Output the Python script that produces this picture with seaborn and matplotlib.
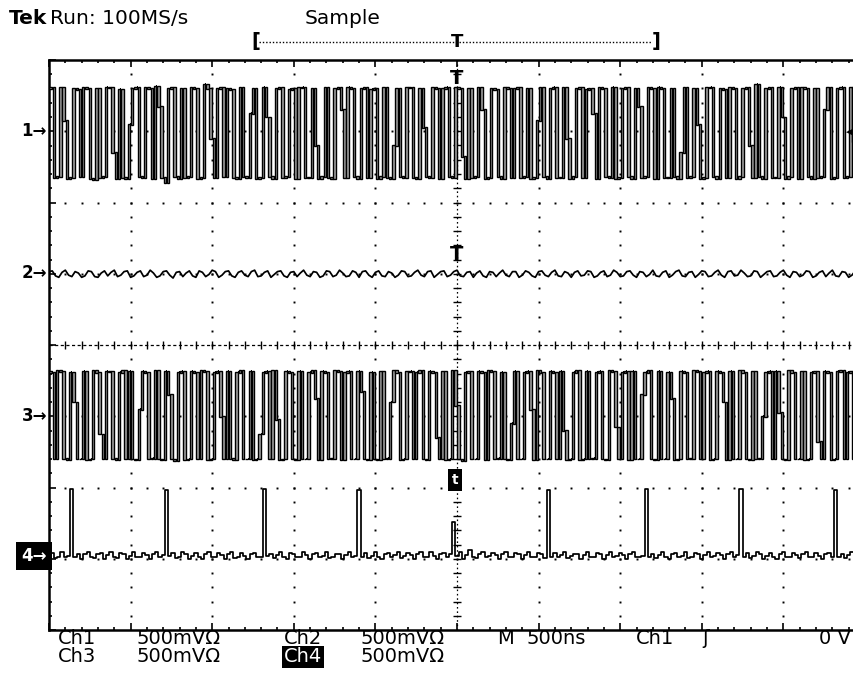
import numpy as np
import pandas as pd
import matplotlib
matplotlib.use("Agg")
import matplotlib.pyplot as plt
from matplotlib.lines import Line2D
from matplotlib.ticker import MultipleLocator
import seaborn as sns

# ---------------------------------------------------------------------------
# DATA  (one value per 20 ns display column, in screen divisions, 500 mV/div)
# ---------------------------------------------------------------------------
SAMPLE_NS = 20
TIME_PER_DIV_NS = 500

ch1_div = [
    0.60, 0.61, -0.65, -0.64, 0.62, 0.15, -0.66, -0.65, 0.60, 0.59, -0.64,
    0.61, 0.60, -0.66, -0.68, 0.60, -0.65, -0.64, 0.62, 0.61, -0.30, -0.66,
    0.59, -0.65, -0.66, 0.10, 0.60, 0.62, -0.64, -0.65, 0.61, 0.60, -0.66,
    0.63, 0.35, -0.65, -0.72, 0.60, 0.61, -0.64, -0.66, 0.60, -0.65, -0.64,
    0.61, 0.60, -0.66, -0.65, 0.66, 0.60, -0.10, -0.65, 0.60, 0.61, -0.64,
    0.60, 0.59, -0.65, -0.66, 0.61, -0.64, -0.65, 0.25, 0.60, -0.66, -0.65,
    0.62, 0.20, -0.64, -0.66, 0.60, 0.61, -0.65, -0.64, 0.59, 0.60, -0.66,
    0.61, 0.62, -0.65, -0.65, 0.60, -0.20, -0.66, -0.64, 0.61, -0.65, -0.66,
    0.60, 0.61, 0.30, -0.65, 0.62, 0.60, -0.64, -0.66, 0.60, 0.61, -0.65,
    0.59, 0.60, -0.66, -0.64, 0.61, -0.65, -0.66, -0.20, 0.60, -0.64, -0.65,
    0.62, 0.61, -0.65, -0.66, 0.60, 0.05, -0.64, -0.65, 0.61, 0.60, -0.66,
    0.60, 0.62, -0.64, -0.65, 0.61, 0.60, -0.35, -0.66, 0.60, -0.65, -0.64,
    0.61, 0.30, -0.66, -0.65, 0.60, 0.59, -0.64, -0.66, 0.62, 0.60, -0.65,
    0.60, 0.61, -0.65, -0.64, 0.60, -0.66, -0.65, 0.15, 0.61, -0.64, -0.66,
    0.60, 0.62, -0.65, -0.65, 0.61, -0.10, -0.66, -0.64, 0.60, 0.61, -0.65,
    0.59, 0.60, 0.25, -0.66, 0.61, 0.60, -0.64, -0.65, 0.62, -0.66, -0.65,
    0.60, 0.61, -0.64, -0.66, 0.60, 0.35, -0.65, -0.64, 0.61, 0.60, -0.66,
    0.62, 0.60, -0.65, -0.65, 0.60, -0.64, -0.66, -0.30, 0.61, -0.65, -0.64,
    0.60, 0.10, -0.66, -0.65, 0.61, 0.62, -0.64, -0.66, 0.60, 0.59, -0.65,
    0.61, 0.60, -0.66, -0.64, 0.60, 0.61, -0.20, -0.65, 0.66, -0.64, -0.66,
    0.60, 0.61, -0.65, -0.65, 0.62, 0.20, -0.66, -0.64, 0.60, 0.61, -0.66,
    0.61, 0.60, -0.64, -0.66, 0.60, -0.65, -0.64, 0.30, 0.61, -0.66, -0.65,
    0.60, 0.62, -0.65, -0.64, 0.61, -0.15, -0.66, -0.65, 0.60, 0.61, -0.64,
]

ch2_div = [
    0.03, 0.04, -0.03, -0.05, 0.02, 0.05, -0.02, -0.04, 0.03, 0.01, -0.05,
    -0.03, 0.04, 0.03, -0.04, -0.05, 0.01, 0.04, -0.03, 0.02, 0.05, -0.04,
    -0.02, 0.03, 0.04, -0.05, -0.03, 0.02, 0.04, -0.04, -0.02, 0.05, 0.01,
    -0.05, -0.03, 0.03, 0.04, -0.02, -0.06, 0.02, 0.03, -0.04, 0.01, 0.04,
    -0.03, -0.05, 0.04, 0.02, -0.04, -0.01, 0.05, 0.03, -0.05, -0.02, 0.03,
    0.04, -0.03, -0.05, 0.02, 0.04, -0.02, -0.04, 0.03, 0.05, -0.04, -0.03,
    0.02, 0.04, -0.05, -0.01, 0.03, 0.04, -0.03, -0.05, 0.02, 0.03, -0.04,
    0.01, 0.05, -0.02, -0.04, 0.03, 0.02, -0.05, -0.03, 0.04, 0.03, -0.04,
    -0.02, 0.05, 0.01, -0.04, -0.03, 0.04, 0.02, -0.05, 0.03, 0.04, -0.02,
    -0.05, 0.02, 0.04, -0.03, -0.04, 0.03, 0.01, -0.05, -0.02, 0.04, 0.03,
    -0.04, -0.03, 0.02, 0.05, -0.02, -0.04, 0.03, 0.04, -0.05, -0.01, 0.03,
    0.04, -0.04, -0.02, 0.03, 0.05, -0.03, -0.04, 0.02, 0.03, -0.05, 0.01,
    0.04, -0.03, -0.05, 0.03, 0.02, -0.04, 0.01, 0.05, -0.02, -0.04, 0.03,
    0.03, -0.05, -0.02, 0.04, 0.02, -0.03, -0.05, 0.03, 0.04, -0.02, -0.04,
    0.02, 0.05, -0.03, -0.04, 0.03, 0.01, -0.05, 0.02, 0.04, -0.03, -0.02,
    0.04, 0.03, -0.05, -0.03, 0.02, 0.04, -0.04, -0.02, 0.05, 0.02, -0.04,
    -0.03, 0.03, 0.04, -0.02, -0.05, 0.03, 0.02, -0.04, -0.01, 0.05, -0.03,
    -0.04, 0.02, 0.04, -0.05, -0.02, 0.03, 0.05, -0.03, -0.04, 0.02, 0.03,
    -0.05, -0.01, 0.04, 0.03, -0.04, -0.03, 0.02, 0.05, -0.02, -0.05, 0.03,
    0.04, -0.03, -0.02, 0.05, 0.01, -0.04, -0.03, 0.04, 0.03, -0.05, -0.01,
    0.03, 0.04, -0.04, -0.03, 0.02, 0.05, -0.02, -0.05, 0.03, 0.02, -0.04,
    -0.02, 0.04, 0.03, -0.05, -0.03, 0.02, 0.04, -0.04, 0.01, 0.05, -0.03,
    -0.04, 0.03, 0.02, -0.05, -0.02, 0.04, 0.03, -0.03, -0.05, 0.02, 0.04,
]

ch3_div = [
    0.63, 0.62, -0.60, 0.64, 0.63, -0.59, -0.61, 0.62, 0.20, -0.60, -0.60,
    0.63, -0.61, -0.60, 0.64, 0.62, -0.25, -0.60, 0.63, 0.63, -0.59, -0.61,
    0.62, 0.64, -0.60, 0.63, -0.60, -0.61, 0.10, 0.63, 0.62, -0.60, -0.59,
    0.64, -0.60, -0.61, 0.63, 0.30, -0.60, -0.62, 0.62, 0.63, -0.61, -0.60,
    0.63, 0.62, -0.60, 0.64, 0.63, -0.61, -0.60, 0.62, 0.63, 0.00, -0.60,
    0.63, -0.59, -0.61, 0.62, 0.64, -0.60, -0.60, 0.63, -0.61, -0.60, -0.25,
    0.62, 0.63, -0.60, 0.64, -0.05, -0.61, -0.60, 0.63, 0.62, -0.60, -0.61,
    0.63, -0.60, -0.60, 0.62, 0.64, 0.25, -0.61, 0.63, 0.62, -0.60, -0.59,
    0.64, 0.63, -0.61, 0.62, 0.63, -0.60, -0.60, 0.63, 0.35, -0.60, -0.61,
    0.62, -0.60, -0.61, 0.63, -0.60, -0.59, 0.20, 0.64, 0.62, -0.61, -0.60,
    0.63, 0.63, -0.60, 0.62, 0.64, -0.60, -0.61, 0.63, 0.62, -0.30, -0.60,
    0.63, -0.61, -0.60, 0.64, 0.15, -0.60, -0.62, 0.62, 0.63, -0.60, -0.60,
    0.63, 0.62, -0.61, 0.64, 0.63, -0.60, -0.59, 0.62, -0.60, -0.61, -0.10,
    0.63, -0.60, -0.60, 0.62, 0.63, 0.10, -0.61, 0.64, 0.62, -0.60, -0.60,
    0.63, 0.62, -0.60, 0.63, -0.20, -0.61, -0.60, 0.62, 0.64, -0.61, -0.60,
    0.63, -0.60, -0.59, 0.62, 0.63, -0.60, -0.61, 0.64, 0.63, -0.15, -0.60,
    0.62, 0.63, -0.61, 0.63, -0.60, -0.60, 0.30, 0.62, 0.64, -0.60, -0.61,
    0.63, -0.60, -0.60, 0.62, 0.25, -0.61, -0.60, 0.63, 0.62, -0.60, -0.59,
    0.64, 0.63, -0.60, 0.62, 0.63, -0.61, -0.60, 0.63, 0.62, 0.20, -0.61,
    0.63, -0.60, -0.60, 0.64, 0.62, -0.60, -0.61, 0.63, -0.59, -0.60, 0.00,
    0.62, 0.63, -0.60, 0.63, 0.05, -0.60, -0.61, 0.64, 0.62, -0.60, -0.60,
    0.63, -0.61, -0.60, 0.62, 0.63, -0.35, -0.60, 0.63, 0.62, -0.61, -0.60,
    0.63, 0.64, -0.60, 0.62, 0.63, -0.60, -0.61, 0.63, 0.20, -0.60, -0.60,
]

ch4_div = [
    0.05, 0.08, 0.01, 0.03, 0.09, 0.02, 0.04, 0.98, 0.03, 0.07, 0.00,
    0.06, 0.09, 0.02, 0.01, 0.07, 0.08, 0.00, 0.05, 0.09, 0.03, 0.01,
    0.08, 0.06, -0.01, 0.04, 0.09, 0.02, 0.03, 0.08, 0.05, -0.01, 0.06,
    0.09, 0.02, 0.05, 0.97, 0.04, 0.08, 0.01, 0.03, 0.09, 0.06, 0.00,
    0.04, 0.08, 0.03, -0.01, 0.07, 0.09, 0.02, 0.02, 0.08, 0.05, 0.00,
    0.06, 0.09, 0.01, 0.03, 0.08, 0.04, -0.01, 0.07, 0.08, 0.02, 0.03,
    0.98, 0.04, 0.07, 0.01, 0.05, 0.09, 0.03, 0.00, 0.08, 0.06, 0.02,
    0.03, 0.09, 0.05, -0.01, 0.06, 0.08, 0.02, 0.04, 0.09, 0.01, 0.03,
    0.07, 0.06, 0.00, 0.05, 0.09, 0.02, 0.04, 0.97, 0.03, 0.08, 0.01,
    0.04, 0.09, 0.03, 0.00, 0.07, 0.08, 0.02, 0.05, 0.09, 0.01, 0.04,
    0.08, 0.05, -0.01, 0.06, 0.09, 0.03, 0.02, 0.10, 0.04, 0.00, 0.07,
    0.08, 0.02, 0.06, 0.52, 0.04, 0.09, 0.00, 0.05, 0.12, 0.03, 0.01,
    0.07, 0.09, 0.02, 0.04, 0.08, 0.05, -0.01, 0.06, 0.09, 0.02, 0.03,
    0.08, 0.06, 0.00, 0.05, 0.09, 0.03, 0.02, 0.08, 0.06, 0.01, 0.97,
    0.03, 0.08, 0.02, 0.05, 0.09, 0.01, 0.04, 0.07, 0.06, -0.01, 0.05,
    0.09, 0.03, 0.02, 0.08, 0.06, 0.00, 0.05, 0.09, 0.02, 0.04, 0.08,
    0.05, -0.01, 0.06, 0.09, 0.02, 0.03, 0.04, 0.98, 0.02, 0.07, 0.01,
    0.05, 0.09, 0.03, 0.00, 0.07, 0.08, 0.02, 0.04, 0.09, 0.01, 0.03,
    0.08, 0.06, -0.01, 0.05, 0.09, 0.02, 0.04, 0.08, 0.05, 0.00, 0.06,
    0.09, 0.02, 0.05, 0.98, 0.03, 0.08, 0.01, 0.04, 0.09, 0.06, 0.00,
    0.04, 0.08, 0.03, -0.01, 0.07, 0.09, 0.02, 0.03, 0.08, 0.05, 0.01,
    0.06, 0.09, 0.02, 0.03, 0.08, 0.04, 0.00, 0.07, 0.08, 0.02, 0.97,
    0.03, 0.07, 0.01, 0.05, 0.09, 0.02, 0.04, 0.08, 0.06, 0.00, 0.05,
]

channel_labels = ["1", "2", "3", "4"]
header_texts = ["Tek", "Run: 100MS/s", "Sample"]
footer_row1 = ["Ch1", "500mV\u03a9", "Ch2", "500mV\u03a9", "M", "500ns", "Ch1", "\u0283", "0 V"]
footer_row2 = ["Ch3", "500mV\u03a9", "Ch4", "500mV\u03a9"]

# ---------------------------------------------------------------------------
sns.set_theme(style="white")
plt.rcParams["font.family"] = ["DejaVu Sans"]
plt.rcParams["text.color"] = "black"

W, H = 854, 676
fig = plt.figure(figsize=(W / 100, H / 100), dpi=100, facecolor="white")


def fx(px):
    return px / W


def fy(py):
    return 1 - py / H


# graticule area in pixels (right edge lies outside the picture)
GL, GR, GT, GB = 49, 865, 60, 630
ax = fig.add_axes([fx(GL), fy(GB), (GR - GL) / W, (GB - GT) / H])
ax.set_facecolor("white")

for s in ["left", "top", "bottom", "right"]:
    ax.spines[s].set_visible(True)
    ax.spines[s].set_color("black")
    ax.spines[s].set_linewidth(1.8)

# dotted graticule
gx = np.arange(1, 10)
gx = gx[gx != 5]
yd = np.arange(1, 40) * 0.2 - 4
X, Y = np.meshgrid(gx, yd)
ax.plot(X.ravel(), Y.ravel(), ls="none", marker="s", ms=1.4, mew=0, color="black", zorder=1)
gy = np.arange(-3, 4)
gy = gy[gy != 0]
xd = np.arange(1, 50) * 0.2
X2, Y2 = np.meshgrid(xd, gy)
ax.plot(X2.ravel(), Y2.ravel(), ls="none", marker="s", ms=1.4, mew=0, color="black", zorder=1)

# centre rulers
ax.axvline(5, color="black", lw=0.9, ls=(0, (1.3, 2.2)), zorder=1)
ax.axhline(0, color="black", lw=0.9, ls=(0, (2.5, 2.0)), zorder=1)
ax.plot(np.full(len(yd), 5.0), yd, ls="none", marker="_", ms=6, mew=1.0, color="black", zorder=1)
ax.plot(xd, np.zeros(len(xd)), ls="none", marker="|", ms=6, mew=1.0, color="black", zorder=1)

# traces
col_w = SAMPLE_NS / TIME_PER_DIV_NS
grounds = [3, 1, -1, -3]
pad = 0.006
bar_frac = 0.74


def draw_column_trace(values, ground):
    """Each display column is drawn as the vertical span between neighbouring samples."""
    v = np.asarray(values, dtype=float)
    t = np.arange(len(v)) * col_w
    lo = np.minimum(v[:-1], v[1:])
    hi = np.maximum(v[:-1], v[1:])
    centers = t[:-1] + col_w / 2
    bw = bar_frac * col_w
    ax.bar(centers, (hi - lo) + 2 * pad, bottom=ground + lo - pad, width=bw,
           color="#a3a3a3", edgecolor="black", linewidth=1.0, zorder=3)
    gap = (col_w - bw) / 2
    ax.hlines(ground + v[1:-1], t[1:-1] - gap, t[1:-1] + gap, color="black", lw=1.4, zorder=3)


def draw_line_trace(values, ground, style):
    v = np.asarray(values, dtype=float)
    df = pd.DataFrame({"t": np.arange(len(v)) * col_w, "v": ground + v})
    sns.lineplot(data=df, x="t", y="v", ax=ax, color="black", lw=1.25,
                 estimator=None, sort=False, legend=False, zorder=3, drawstyle=style)


draw_column_trace(ch1_div, grounds[0])
draw_line_trace(ch2_div, grounds[1], "default")
draw_column_trace(ch3_div, grounds[2])
draw_line_trace(ch4_div, grounds[3], "steps-mid")

ax.set_xlim(0, 10)
ax.set_ylim(-4, 4)
ax.set_xlabel("")
ax.set_ylabel("")
ax.xaxis.set_major_locator(MultipleLocator(1))
ax.xaxis.set_minor_locator(MultipleLocator(0.2))
ax.yaxis.set_major_locator(MultipleLocator(1))
ax.yaxis.set_minor_locator(MultipleLocator(0.2))
ax.tick_params(which="both", direction="in", top=True, bottom=True, left=True, right=True,
               labelbottom=False, labelleft=False, labeltop=False, labelright=False,
               color="black", width=1.2)
ax.tick_params(which="major", length=5)
ax.tick_params(which="minor", length=2.5)
ax.grid(False)

# ---------------------------------------------------------------------------
# text and markers around the graticule
FS = 14.5
fig.text(fx(9), fy(18), header_texts[0], ha="left", va="center", fontsize=FS, fontweight="bold")
fig.text(fx(50), fy(18), header_texts[1], ha="left", va="center", fontsize=FS)
fig.text(fx(305), fy(18), header_texts[2], ha="left", va="center", fontsize=FS)

# record bracket
fig.text(fx(251), fy(42), "[", ha="left", va="center", fontsize=14, fontweight="bold")
fig.text(fx(661), fy(42), "]", ha="right", va="center", fontsize=14, fontweight="bold")
fig.add_artist(Line2D([fx(259), fx(652)], [fy(42), fy(42)], transform=fig.transFigure,
                      color="black", lw=1.0, ls=(0, (1, 1.4))))
fig.text(fx(457), fy(42), "T", ha="center", va="center", fontsize=13, fontweight="bold")

# trigger markers on the graticule
fig.text(fx(457), fy(79), "T", ha="center", va="center", fontsize=14, fontweight="bold")
fig.text(fx(457), fy(254), "T", ha="center", va="center", fontsize=14, fontweight="bold")
fig.text(fx(455), fy(480), "t", ha="center", va="center", fontsize=10, fontweight="bold",
         color="white", bbox=dict(boxstyle="square,pad=0.3", fc="black", ec="none"))
fig.text(fx(854), fy(132), "\u25c0", ha="right", va="center", fontsize=8, color="black")

# channel ground markers
gpx = [131, 273, 416, 556]
for i, lab in enumerate(channel_labels):
    if i < 3:
        fig.text(fx(47), fy(gpx[i]), lab + "\u2192", ha="right", va="center",
                 fontsize=12, fontweight="bold")
    else:
        fig.text(fx(47), fy(gpx[i]), lab + "\u2192", ha="right", va="center",
                 fontsize=12, fontweight="bold", color="white",
                 bbox=dict(boxstyle="square,pad=0.3", fc="black", ec="none"))

# footer
FF = 14
r1x = [58, 136, 284, 361, 497, 526, 636, 702, 851]
for i, s in enumerate(footer_row1):
    ha = "right" if i == len(footer_row1) - 1 else "left"
    fig.text(fx(r1x[i]), fy(638), s, ha=ha, va="center", fontsize=FF)
r2x = [58, 136, 284, 361]
for i, s in enumerate(footer_row2):
    if i == 2:
        fig.text(fx(r2x[i]), fy(657), s, ha="left", va="center", fontsize=FF, color="white",
                 bbox=dict(boxstyle="square,pad=0.08", fc="black", ec="none"))
    else:
        fig.text(fx(r2x[i]), fy(657), s, ha="left", va="center", fontsize=FF)

fig.savefig("out.png", dpi=100, facecolor="white")
